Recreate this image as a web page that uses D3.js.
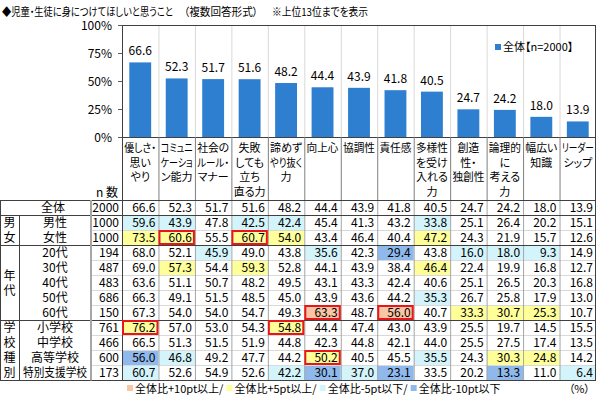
<!DOCTYPE html>
<html>
<head>
<meta charset="utf-8">
<script src="https://cdnjs.cloudflare.com/ajax/libs/d3/7.8.5/d3.min.js"></script>
<style>
body { margin: 0; background: #fff; }
svg text { font-family: "Noto Sans CJK JP", sans-serif; font-feature-settings: "palt"; fill: #000; }
</style>
</head>
<body>
<svg id="chart" width="600" height="395"></svg>
<script>
// items (header lines of each column)
var items = [
    ["優しさ・", "思い", "やり"],
    ["コミュニ", "ケーショ", "ン能力"],
    ["社会の", "ルール・", "マナー"],
    ["失敗", "しても", "立ち", "直る力"],
    ["諦めず", "やり抜く", "力"],
    ["向上心"],
    ["協調性"],
    ["責任感"],
    ["多様性", "を受け", "入れる", "力"],
    ["創造", "性・", "独創性"],
    ["論理的", "に", "考える", "力"],
    ["幅広い", "知識"],
    ["リーダー", "シップ"]
];
var overall = [66.6, 52.3, 51.7, 51.6, 48.2, 44.4, 43.9, 41.8, 40.5, 24.7, 24.2, 18.0, 13.9];
var yTicks = [0, 25, 50, 75, 100];

var rowLabels = ["全体", "男性", "女性", "20代", "30代", "40代", "50代", "60代", "小学校", "中学校", "高等学校", "特別支援学校"];
var rowN = [2000, 1000, 1000, 194, 487, 483, 686, 150, 761, 466, 600, 173];
var rowValues = [
    [66.6, 52.3, 51.7, 51.6, 48.2, 44.4, 43.9, 41.8, 40.5, 24.7, 24.2, 18.0, 13.9],
    [59.6, 43.9, 47.8, 42.5, 42.4, 45.4, 41.3, 43.2, 33.8, 25.1, 26.4, 20.2, 15.1],
    [73.5, 60.6, 55.5, 60.7, 54.0, 43.4, 46.4, 40.4, 47.2, 24.3, 21.9, 15.7, 12.6],
    [68.0, 52.1, 45.9, 49.0, 43.8, 35.6, 42.3, 29.4, 43.8, 16.0, 18.0, 9.3, 14.9],
    [69.0, 57.3, 54.4, 59.3, 52.8, 44.1, 43.9, 38.4, 46.4, 22.4, 19.9, 16.8, 12.7],
    [63.6, 51.1, 50.7, 48.2, 49.5, 43.1, 43.3, 42.4, 40.6, 25.1, 26.5, 20.3, 16.8],
    [66.3, 49.1, 51.5, 48.5, 45.0, 43.9, 43.6, 44.2, 35.3, 26.7, 25.8, 17.9, 13.0],
    [67.3, 54.0, 54.0, 54.7, 49.3, 63.3, 48.7, 56.0, 40.7, 33.3, 30.7, 25.3, 10.7],
    [76.2, 57.0, 53.0, 54.3, 54.8, 44.4, 47.4, 43.0, 43.9, 25.5, 19.7, 14.5, 15.5],
    [66.5, 51.3, 51.5, 51.9, 44.8, 42.3, 44.8, 42.1, 44.0, 25.5, 27.5, 17.4, 13.5],
    [56.0, 46.8, 49.2, 47.7, 44.2, 50.2, 40.5, 45.5, 35.5, 24.3, 30.3, 24.8, 14.2],
    [60.7, 52.6, 54.9, 52.6, 42.2, 30.1, 37.0, 23.1, 33.5, 20.2, 13.3, 11.0, 6.4]
];
// A: +10pt, B: +5pt, C: -5pt, D: -10pt
var rowMarks = [
    ".............",
    "CC.CC...C....",
    "BB.BB...B....",
    "..C..C.D.CCC.",
    ".B.B....B....",
    ".............",
    "........C....",
    ".....A.A.BBB.",
    "B...B........",
    ".............",
    "DC...B..C.BB.",
    "C...CDCD..D.C"
];
var boxed = [[2, 1], [2, 3], [7, 5], [7, 7], [8, 0], [8, 4], [10, 5]];

var groupLabels = ["男女", "年代", "学校種別"];
var groupFirst = [1, 3, 8];
var groupLast = [2, 7, 11];

var legendLabels = ["全体比+10pt以上/", "全体比+5pt以上/", "全体比-5pt以下/", "全体比-10pt以下"];
var legendKeys = ["A", "B", "C", "D"];

var markColor = {A: "#f8c6a4", B: "#ffff99", C: "#d3f4fb", D: "#8fb9ec"};
var barColor = "#2f7fd1";

var svg = d3.select("#chart");

var plotLeft = 122, plotRight = 596, plotTop = 25, plotBottom = 137;
var headTop = 137, tableTop = 200, tableBottom = 380;

var xCol = d3.scaleBand().domain(d3.range(items.length)).range([plotLeft, plotRight]);
var xBar = d3.scaleBand().domain(d3.range(items.length)).range([plotLeft, plotRight])
    .paddingInner(0.4).paddingOuter(0.2);
var y = d3.scaleLinear().domain([0, 100]).range([plotBottom, plotTop]);
var yRow = d3.scaleBand().domain(d3.range(rowLabels.length)).range([tableTop, tableBottom]);

function fitText(sel, maxW) {
    sel.each(function () {
        var w = this.getComputedTextLength();
        if (w > maxW) {
            d3.select(this).attr("textLength", maxW).attr("lengthAdjust", "spacingAndGlyphs");
        }
    });
}

// title
var titleParts = ["◆児童・生徒に身につけてほしいと思うこと", "（複数回答形式）", "※上位13位までを表示"];
var titleX = [2, 184, 272];
var titleW = [171, 74, 96];
svg.selectAll(".title")
    .data(titleParts)
    .enter().append("text")
    .attr("class", "title")
    .attr("x", function (d, i) { return titleX[i]; })
    .attr("y", 16)
    .style("font-size", "11px")
    .text(function (d) { return d; })
    .attr("textLength", function (d, i) { return titleW[i]; })
    .attr("lengthAdjust", "spacingAndGlyphs");

// vertical grid in plot
svg.append("g").selectAll("line")
    .data(d3.range(1, items.length))
    .enter().append("line")
    .attr("x1", function (d) { return xCol(d) + 0.5; })
    .attr("x2", function (d) { return xCol(d) + 0.5; })
    .attr("y1", plotTop)
    .attr("y2", plotBottom)
    .attr("stroke", "#d9d9d9");

// bars
svg.append("g").selectAll("rect")
    .data(overall)
    .enter().append("rect")
    .attr("x", function (d, i) { return xBar(i); })
    .attr("width", xBar.bandwidth())
    .attr("y", function (d) { return y(d); })
    .attr("height", function (d) { return plotBottom - y(d); })
    .attr("fill", barColor);

svg.append("g").selectAll("text")
    .data(overall)
    .enter().append("text")
    .attr("x", function (d, i) { return xBar(i) + xBar.bandwidth() / 2; })
    .attr("y", function (d) { return y(d) - 7; })
    .attr("text-anchor", "middle")
    .style("font-size", "12px")
    .text(function (d) { return d.toFixed(1); });

// y axis
var yAxis = d3.axisLeft(y).tickValues(yTicks).tickSize(4).tickFormat(function (d) { return d + "%"; });
var ya = svg.append("g").attr("transform", "translate(" + plotLeft + ",0)").call(yAxis);
ya.select(".domain").remove();
ya.selectAll("line").attr("stroke", "#595959");
ya.selectAll("text").attr("x", -10).attr("dy", "0.35em").style("font-size", "12px").style("font-family", null);

// plot border
svg.append("rect")
    .attr("x", plotLeft + 0.5).attr("y", plotTop + 0.5)
    .attr("width", plotRight - plotLeft - 1).attr("height", plotBottom - plotTop)
    .attr("fill", "none").attr("stroke", "#404040");

// legend in plot
svg.append("rect").attr("x", 495).attr("y", 44).attr("width", 6).attr("height", 6).attr("fill", barColor);
svg.append("text").attr("x", 503).attr("y", 51).style("font-size", "11px").text("全体【n=2000】");

// header labels
var head = svg.append("g");
items.forEach(function (lines, i) {
    head.selectAll(".h" + i)
        .data(lines)
        .enter().append("text")
        .attr("x", xCol(i) + xCol.bandwidth() / 2)
        .attr("y", function (d, k) { return 152 + k * 14.7; })
        .attr("text-anchor", "middle")
        .style("font-size", "11px")
        .text(function (d) { return d; })
        .call(fitText, 32);
});
svg.append("text").attr("x", 118).attr("y", 197).attr("text-anchor", "end")
    .style("font-size", "12px").text("n 数");

// header column lines
svg.append("g").selectAll("line")
    .data(d3.range(1, items.length))
    .enter().append("line")
    .attr("x1", function (d) { return xCol(d) + 0.5; })
    .attr("x2", function (d) { return xCol(d) + 0.5; })
    .attr("y1", headTop)
    .attr("y2", tableTop)
    .attr("stroke", "#7f7f7f");

// cell fills
var cells = svg.append("g");
rowValues.forEach(function (vals, r) {
    cells.selectAll(".c" + r)
        .data(vals)
        .enter().append("rect")
        .attr("x", function (d, i) { return xCol(i); })
        .attr("y", yRow(r))
        .attr("width", xCol.bandwidth())
        .attr("height", yRow.bandwidth())
        .attr("fill", function (d, i) {
            var m = rowMarks[r].charAt(i);
            return markColor[m] || "none";
        });
});

// row lines inside data area
svg.append("g").selectAll("line")
    .data(d3.range(1, rowLabels.length))
    .enter().append("line")
    .attr("x1", 91)
    .attr("x2", plotRight)
    .attr("y1", function (d) { return yRow(d) + 0.5; })
    .attr("y2", function (d) { return yRow(d) + 0.5; })
    .attr("stroke", "#d9d9d9");

// data column lines
svg.append("g").selectAll("line")
    .data(d3.range(1, items.length))
    .enter().append("line")
    .attr("x1", function (d) { return xCol(d) + 0.5; })
    .attr("x2", function (d) { return xCol(d) + 0.5; })
    .attr("y1", tableTop)
    .attr("y2", tableBottom)
    .attr("stroke", "#a6a6a6");

// group boundary lines
var bounds = [tableTop, yRow(1)].concat(groupLast.map(function (d) { return yRow(d) + yRow.bandwidth(); }));
svg.append("g").selectAll("line")
    .data(bounds)
    .enter().append("line")
    .attr("x1", 0)
    .attr("x2", plotRight)
    .attr("y1", function (d) { return d + 0.5; })
    .attr("y2", function (d) { return d + 0.5; })
    .attr("stroke", "#404040");

// table verticals
var vLines = [[0.5, tableTop, tableBottom], [19.5, yRow(1), tableBottom], [91, tableTop, tableBottom],
    [plotLeft + 0.5, plotBottom, tableBottom], [plotRight - 0.5, plotBottom, tableBottom]];
svg.append("g").selectAll("line")
    .data(vLines)
    .enter().append("line")
    .attr("x1", function (d) { return d[0]; })
    .attr("x2", function (d) { return d[0]; })
    .attr("y1", function (d) { return d[1]; })
    .attr("y2", function (d) { return d[2] + 0.5; })
    .attr("stroke", function (d, i) { return i == 2 ? "#a6a6a6" : "#404040"; })
    .attr("stroke-width", function (d, i) { return i == 2 ? 2 : 1; });

// values
var vals = svg.append("g");
rowValues.forEach(function (row, r) {
    vals.selectAll(".v" + r)
        .data(row)
        .enter().append("text")
        .attr("x", function (d, i) { return xCol(i) + xCol.bandwidth() - 3; })
        .attr("y", yRow(r) + yRow.bandwidth() / 2 + 4.5)
        .attr("text-anchor", "end")
        .style("font-size", "12px")
        .text(function (d) { return d.toFixed(1); });
});

// row labels and n
svg.append("g").selectAll("text")
    .data(rowLabels)
    .enter().append("text")
    .attr("x", function (d, i) { return i == 0 ? 53 : 55; })
    .attr("y", function (d, i) { return yRow(i) + yRow.bandwidth() / 2 + 4.5; })
    .attr("text-anchor", "middle")
    .style("font-size", "12px")
    .text(function (d) { return d; })
    .call(fitText, 64);

svg.append("g").selectAll("text")
    .data(rowN)
    .enter().append("text")
    .attr("x", 119)
    .attr("y", function (d, i) { return yRow(i) + yRow.bandwidth() / 2 + 4.5; })
    .attr("text-anchor", "end")
    .style("font-size", "12px")
    .text(function (d) { return d; });

// group labels
groupLabels.forEach(function (g, k) {
    var chars = g.split("");
    var mid = (yRow(groupFirst[k]) + yRow(groupLast[k]) + yRow.bandwidth()) / 2;
    var step = yRow.bandwidth();
    svg.selectAll(".g" + k)
        .data(chars)
        .enter().append("text")
        .attr("x", 9.5)
        .attr("y", function (d, i) { return mid + (i - (chars.length - 1) / 2) * step + 4.5; })
        .attr("text-anchor", "middle")
        .style("font-size", "12px")
        .text(function (d) { return d; });
});

// red boxes
svg.append("g").selectAll("rect")
    .data(boxed)
    .enter().append("rect")
    .attr("x", function (d) { return xCol(d[1]) + 1; })
    .attr("y", function (d) { return yRow(d[0]) + 1; })
    .attr("width", xCol.bandwidth() - 2)
    .attr("height", yRow.bandwidth() - 2)
    .attr("fill", "none")
    .attr("stroke", "#e8161b")
    .attr("stroke-width", 2);

// bottom legend
var lx = 127;
legendLabels.forEach(function (t, i) {
    svg.append("rect").attr("x", lx).attr("y", 385).attr("width", 6).attr("height", 6)
        .attr("fill", markColor[legendKeys[i]]);
    var tx = svg.append("text").attr("x", lx + 8).attr("y", 393).style("font-size", "11px").text(t);
    lx += 8 + tx.node().getComputedTextLength() + 3;
});
svg.append("text").attr("x", 590).attr("y", 393).attr("text-anchor", "end")
    .style("font-size", "11px").text("（%）");
</script>
</body>
</html>
